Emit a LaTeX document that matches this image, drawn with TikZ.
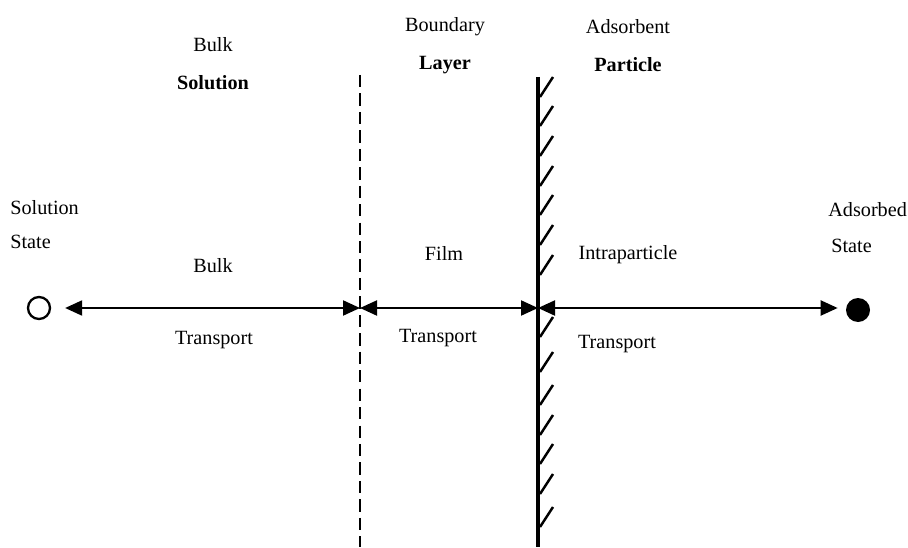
\documentclass[tikz,border=0pt]{standalone}
\usepackage{fontspec}
\setmainfont{Liberation Serif}
\usetikzlibrary{arrows.meta}

\tikzset{
  lbl/.style={font=\fontsize{11.5}{13}\selectfont, inner sep=0pt},
  hdr/.style={lbl, font=\fontsize{11.5}{13}\selectfont\bfseries},
  trans/.style={line width=1.2pt, {Triangle[length=17*0.02cm,width=15*0.02cm]}-{Triangle[length=17*0.02cm,width=15*0.02cm]}},
  hatch/.style={line width=1.4pt}
}

\begin{document}
\begin{tikzpicture}[x=0.02cm,y=-0.02cm]
\useasboundingbox (0,0) rectangle (908,547);
% headings
\node[lbl] (bulkA) at (213,45) {Bulk};
\node[hdr] (bulkB) at (213,83) {Solution};
\node[lbl] (bndA) at (445,27) {Boundary};
\node[hdr] (bndB) at (445,65) {Layer};
\node[lbl] (adsA) at (628,27) {Adsorbent};
\node[hdr] (adsB) at (628,65) {Particle};
% states
\node[lbl,anchor=west] (solA) at (10,208) {Solution};
\node[lbl,anchor=west] (solB) at (10,242) {State};
\node[lbl,anchor=west] (adsdA) at (828,210) {Adsorbed};
\node[lbl,anchor=west] (adsdB) at (831,246) {State};
% step labels
\node[lbl] (bulkT) at (213,266) {Bulk};
\node[lbl] (bulkTr) at (214,340) {Transport};
\node[lbl] (filmT) at (444,253) {Film};
\node[lbl] (filmTr) at (438,338) {Transport};
\node[lbl] (intraT) at (628,255) {Intraparticle};
\node[lbl] (intraTr) at (617,344) {Transport};
% the two boundaries
\draw[line width=0.9pt,dash pattern=on 7pt off 3.5pt] (360,75) -- (360,547);
\draw[line width=2.4pt] (538,77) -- (538,547);
\foreach \t in {77,106,136,166,195,225,255,317,352,385,415,444,474,507}
  \draw[hatch] (540,\t+20) -- (553,\t);
% start and end states
\node[draw,circle,line width=1.3pt,minimum size=22*0.02cm,inner sep=0pt] (sol) at (39,308) {};
\node[fill,circle,minimum size=24*0.02cm,inner sep=0pt] (ads) at (858,310) {};
\coordinate (film) at (360,308);
\coordinate (wall) at (538,308);
% transport steps
\draw[trans,shorten <=14*0.02cm] (sol.east) -- (film);
\draw[trans] (film) -- (wall);
\draw[trans,shorten >=8*0.02cm] (wall) -- (ads.west |- wall);
\end{tikzpicture}
\end{document}
